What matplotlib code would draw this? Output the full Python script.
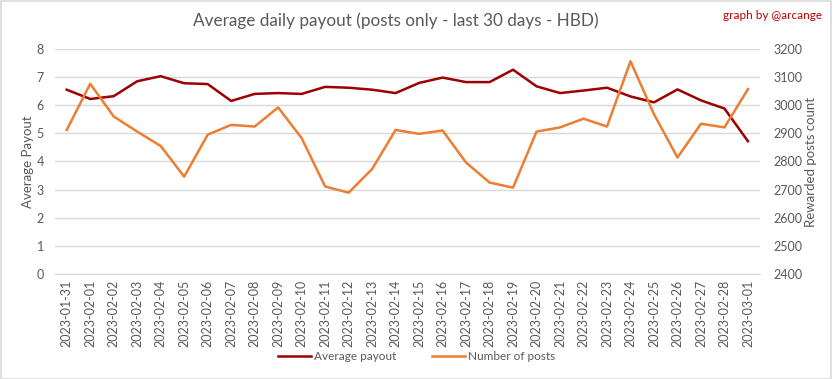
import matplotlib.pyplot as plt
from matplotlib.patches import Rectangle

# daily values
dates = ['2023-01-31', '2023-02-01', '2023-02-02', '2023-02-03', '2023-02-04',
         '2023-02-05', '2023-02-06', '2023-02-07', '2023-02-08', '2023-02-09',
         '2023-02-10', '2023-02-11', '2023-02-12', '2023-02-13', '2023-02-14',
         '2023-02-15', '2023-02-16', '2023-02-17', '2023-02-18', '2023-02-19',
         '2023-02-20', '2023-02-21', '2023-02-22', '2023-02-23', '2023-02-24',
         '2023-02-25', '2023-02-26', '2023-02-27', '2023-02-28', '2023-03-01']
avg_payout = [6.55, 6.22, 6.32, 6.85, 7.03, 6.78, 6.75, 6.15, 6.40, 6.43,
              6.40, 6.65, 6.62, 6.55, 6.43, 6.79, 6.98, 6.82, 6.82, 7.26,
              6.67, 6.43, 6.52, 6.62, 6.31, 6.10, 6.56, 6.17, 5.88, 4.72]
num_posts = [2912, 3076, 2960, 2906, 2855, 2746, 2895, 2930, 2924, 2992,
             2883, 2711, 2689, 2773, 2912, 2898, 2910, 2796, 2725, 2707,
             2906, 2921, 2952, 2924, 3156, 2968, 2814, 2934, 2921, 3057]

grey = '#595959'
plt.rcParams['font.family'] = ['Lato', 'DejaVu Sans']

fig = plt.figure(figsize=(8.33, 3.79), dpi=100)
ax = fig.add_axes([0.066, 0.277, 0.846, 0.594])
ax2 = ax.twinx()

x = range(len(dates))
l1, = ax.plot(x, avg_payout, color='#9c0000', lw=1.8, label='Average payout', zorder=3)
l2, = ax2.plot(x, num_posts, color='#ed7d31', lw=1.8, label='Number of posts', zorder=3)

ax.set_xlim(-0.5, len(dates) - 0.5)
ax.set_ylim(0, 8)
ax2.set_ylim(2400, 3200)
ax.set_yticks(range(0, 9))
ax2.set_yticks(range(2400, 3201, 100))
ax.set_xticks(list(x))
ax.set_xticklabels(dates, rotation=90, fontsize=8.5, color=grey)
ax.yaxis.grid(True, color='#d9d9d9', lw=1)
ax.set_axisbelow(True)

for a in (ax, ax2):
    for s in a.spines.values():
        s.set_visible(False)
    a.tick_params(length=0, colors=grey, labelsize=9)
ax.spines['bottom'].set_visible(True)
ax.spines['bottom'].set_color('#d9d9d9')
ax.tick_params(axis='x', pad=4)
ax.tick_params(axis='y', pad=8)
ax2.tick_params(axis='y', pad=10)

ax.set_ylabel('Average Payout', color=grey, fontsize=9.5, labelpad=2)
ax2.set_ylabel('Rewarded posts count', color=grey, fontsize=9.5, labelpad=2)

fig.text(0.475, 0.945, 'Average daily payout (posts only - last 30 days - HBD)',
         ha='center', va='center', fontsize=12.3, color=grey)
fig.text(0.987, 0.96, 'graph by @arcange', ha='right', va='center',
         fontsize=8.5, color='#c00000')

fig.legend(handles=[l1, l2], loc='center', bbox_to_anchor=(0.5, 0.06), ncol=2,
           frameon=False, fontsize=8.5, labelcolor=grey, handlelength=2.8,
           handletextpad=0.3, columnspacing=3)

fig.patches.append(Rectangle((0.001, 0.001), 0.997, 0.996, transform=fig.transFigure,
                             fill=False, edgecolor='#d9d9d9', lw=1.2))

fig.savefig('out.png', dpi=100)
